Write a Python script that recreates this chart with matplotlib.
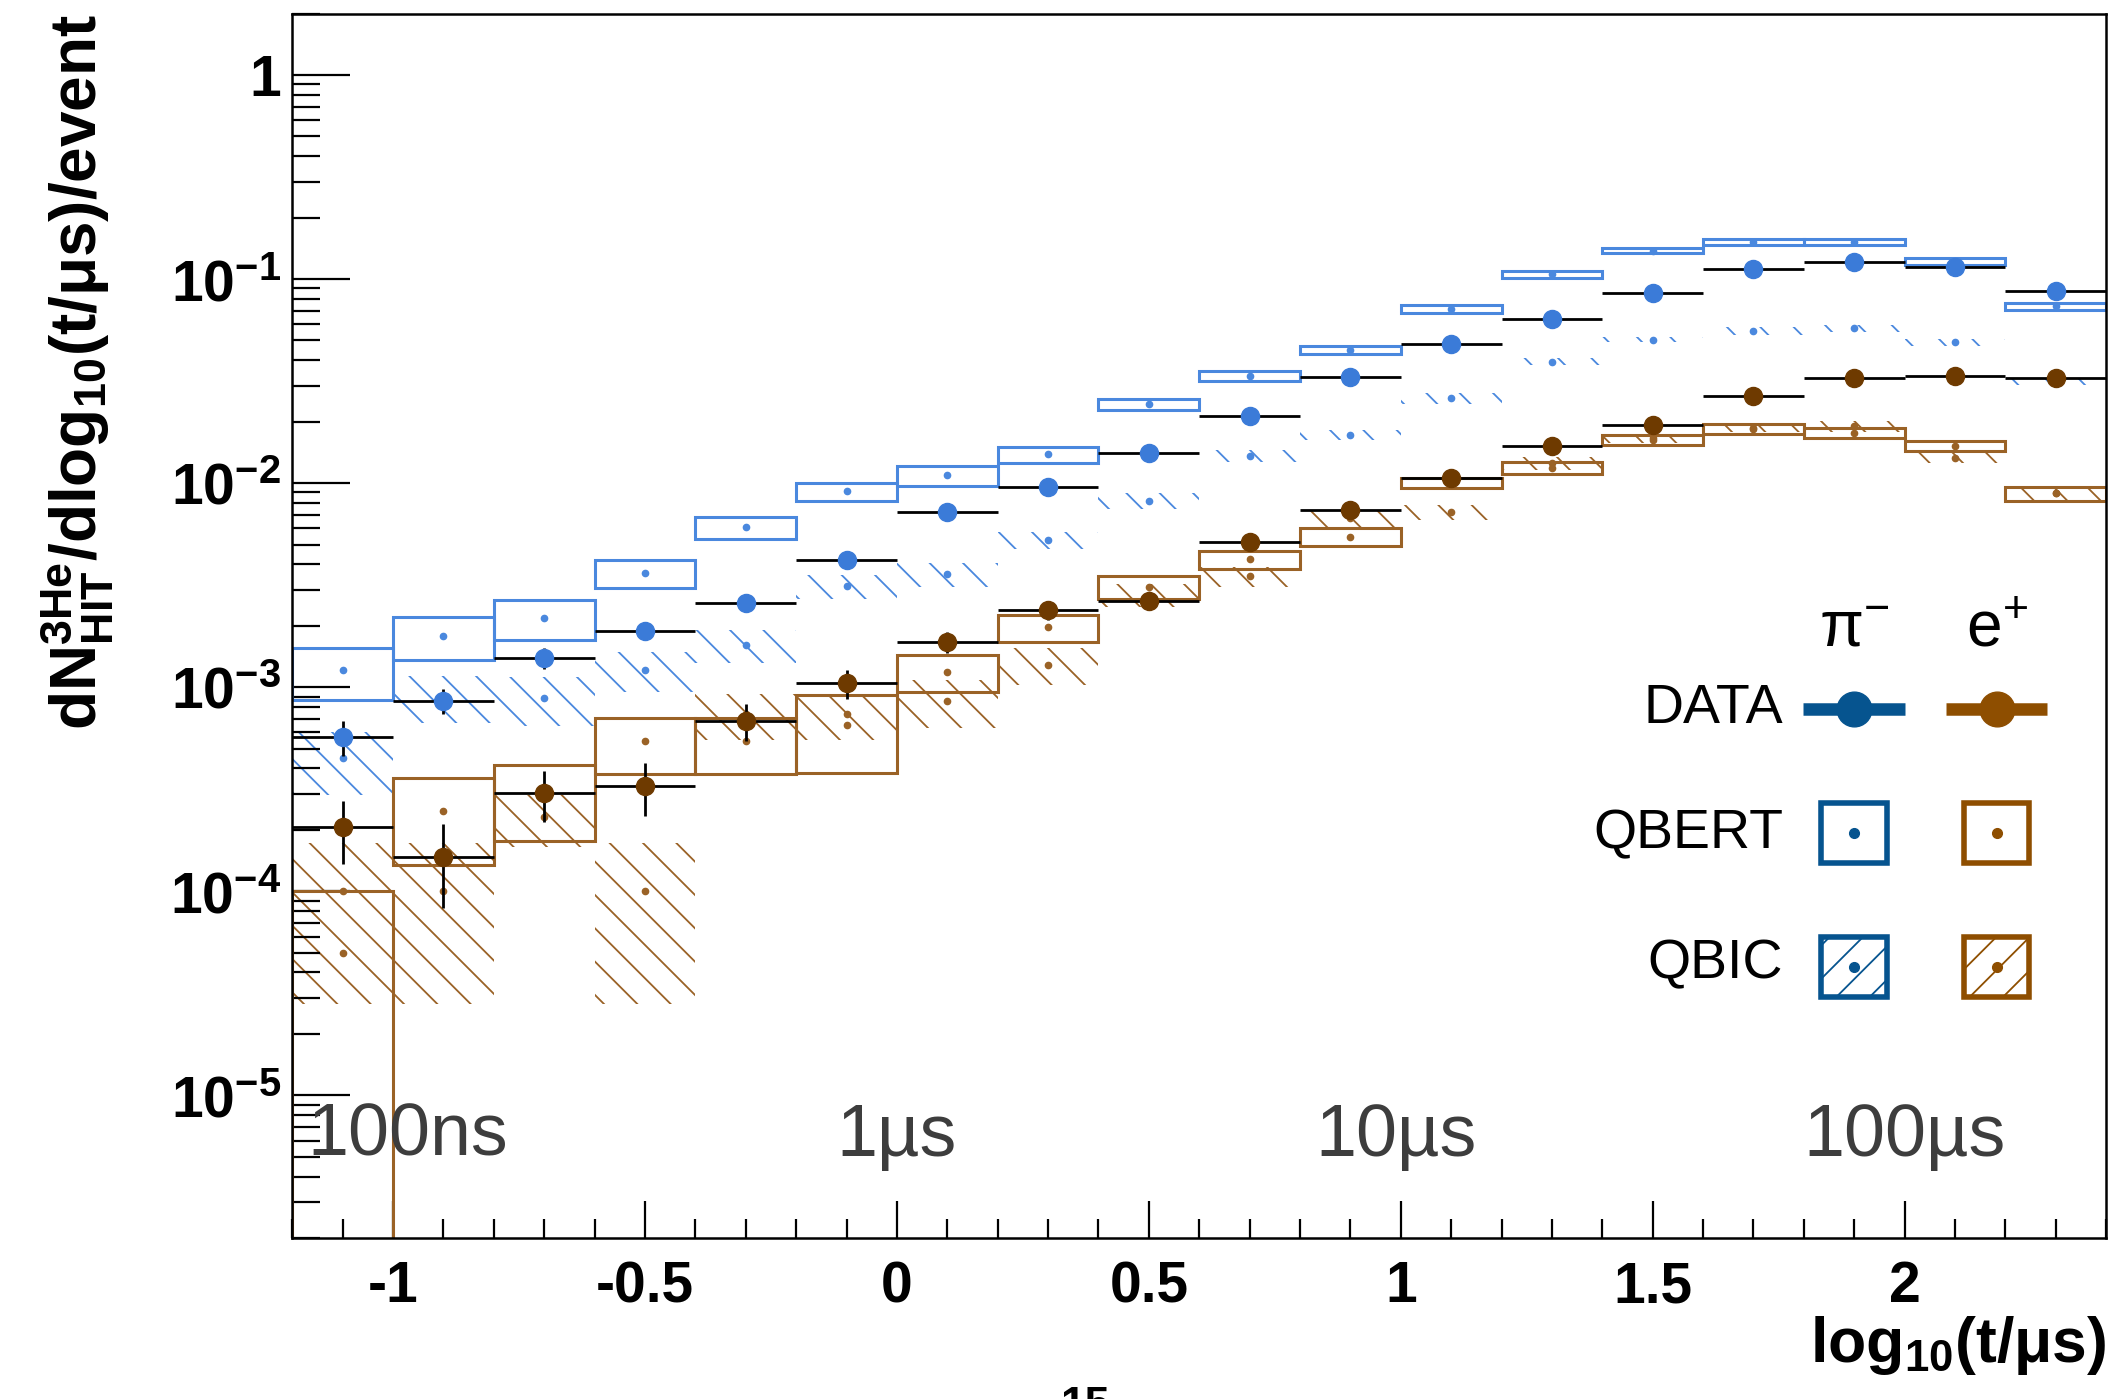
import numpy as np
import matplotlib
matplotlib.use('Agg')
import matplotlib.pyplot as plt
from matplotlib.patches import Rectangle
from matplotlib.lines import Line2D
from matplotlib.ticker import FixedLocator, FixedFormatter, LogLocator, NullFormatter, MultipleLocator

plt.rcParams['font.family'] = ['Liberation Sans', 'DejaVu Sans']
plt.rcParams['mathtext.fontset'] = 'custom'
plt.rcParams['mathtext.rm'] = 'Liberation Sans'
plt.rcParams['mathtext.bf'] = 'Liberation Sans:bold'
plt.rcParams['mathtext.it'] = 'Liberation Sans:italic'
plt.rcParams['mathtext.sf'] = 'Liberation Sans'
plt.rcParams['hatch.linewidth'] = 1.3

# bins in log10(t/us), width 0.2
bin_centers = [-1.1, -0.9, -0.7, -0.5, -0.3, -0.1, 0.1, 0.3, 0.5,
               0.7, 0.9, 1.1, 1.3, 1.5, 1.7, 1.9, 2.1, 2.3]

# pi- data
pi_data = [5.7e-4, 8.6e-4, 1.39e-3, 1.89e-3, 2.6e-3, 4.2e-3, 7.2e-3, 9.6e-3, 1.4e-2,
           2.14e-2, 3.3e-2, 4.8e-2, 6.4e-2, 8.5e-2, 0.112, 0.121, 0.115, 0.087]
pi_data_err = [1.1e-4, 1.2e-4, 1.6e-4, 1.7e-4, 2.0e-4, 2.5e-4, 3.0e-4, 3.5e-4, 4e-4,
               5e-4, 6e-4, 7e-4, 8e-4, 9e-4, 1.0e-3, 1.1e-3, 1.0e-3, 9e-4]
# e+ data
e_data = [2.06e-4, 1.48e-4, 3.03e-4, 3.29e-4, 6.83e-4, 1.05e-3, 1.67e-3, 2.39e-3, 2.65e-3,
          5.16e-3, 7.4e-3, 1.06e-2, 1.52e-2, 1.92e-2, 2.67e-2, 3.29e-2, 3.36e-2, 3.29e-2]
e_data_err = [7.0e-5, 6.5e-5, 8.5e-5, 9.5e-5, 1.4e-4, 1.7e-4, 2.0e-4, 2.5e-4, 2.5e-4,
              3.5e-4, 4e-4, 4.5e-4, 5.5e-4, 6e-4, 7e-4, 7.5e-4, 7.5e-4, 7.5e-4]

# QBERT simulation
pi_qbert = [1.21e-3, 1.78e-3, 2.18e-3, 3.63e-3, 6.07e-3, 9.1e-3, 1.09e-2, 1.385e-2, 2.43e-2,
            3.35e-2, 4.5e-2, 7.17e-2, 0.1055, 0.138, 0.152, 0.152, 0.122, 7.37e-2]
pi_qbert_err = [3.4e-4, 4.2e-4, 4.8e-4, 5.8e-4, 7.7e-4, 9.2e-4, 1.2e-3, 1.25e-3, 1.6e-3,
                1.8e-3, 2e-3, 3.2e-3, 4.5e-3, 4e-3, 4.5e-3, 4.5e-3, 4.3e-3, 2.9e-3]
e_qbert = [5e-5, 2.47e-4, 2.96e-4, 5.43e-4, 5.43e-4, 6.5e-4, 1.19e-3, 1.97e-3, 3.1e-3,
           4.23e-3, 5.45e-3, 1.0e-2, 1.19e-2, 1.63e-2, 1.85e-2, 1.76e-2, 1.52e-2, 8.9e-3]
e_qbert_err = [5e-5, 1.12e-4, 1.2e-4, 1.67e-4, 1.67e-4, 2.7e-4, 2.45e-4, 3e-4, 3.9e-4,
               4.4e-4, 5.5e-4, 5.5e-4, 8.5e-4, 9e-4, 1e-3, 1e-3, 8e-4, 7e-4]

# QBIC simulation
pi_qbic = [4.5e-4, 9.0e-4, 8.86e-4, 1.22e-3, 1.61e-3, 3.13e-3, 3.57e-3, 5.28e-3, 8.2e-3,
           1.36e-2, 1.72e-2, 2.6e-2, 3.94e-2, 5.05e-2, 5.55e-2, 5.74e-2, 4.9e-2, 3.14e-2]
pi_qbic_err = [1.55e-4, 2.3e-4, 2.4e-4, 2.7e-4, 3e-4, 4.1e-4, 4.7e-4, 5e-4, 7e-4,
               9e-4, 1e-3, 1.5e-3, 1.6e-3, 1.5e-3, 2.5e-3, 2.2e-3, 2e-3, 1e-3]
e_qbic = [1.0e-4, 1.0e-4, 2.3e-4, 1.0e-4, 7.4e-4, 7.35e-4, 8.55e-4, 1.29e-3, 2.84e-3,
          3.5e-3, 6.75e-3, 7.2e-3, 1.25e-2, 1.66e-2, 1.86e-2, 1.9e-2, 1.33e-2, 8.9e-3]
e_qbic_err = [7.2e-5, 7.2e-5, 6.5e-5, 7.2e-5, 1.9e-4, 1.85e-4, 2.25e-4, 2.65e-4, 3.6e-4,
              4e-4, 6.5e-4, 6e-4, 9e-4, 9e-4, 8e-4, 1.2e-3, 7.5e-4, 7e-4]

time_labels = ['100ns', '1\u00b5s', '10\u00b5s', '100\u00b5s']
time_pos = [-0.97, 0.0, 0.99, 2.0]

blue_mark = '#3b7bd8'
blue_box = '#4a88de'
brown_mark = '#6e3a00'
brown_box = '#9a6226'
leg_blue = '#06548f'
leg_brown = '#8e4e00'

fig = plt.figure(figsize=(21.21, 13.99), dpi=100)
ax = fig.add_axes([0.1378, 0.1151, 0.8552, 0.8752])
ax.set_yscale('log')

x = np.array(bin_centers)


def draw_qbic(vals, errs, color):
    v = np.array(vals)
    e = np.array(errs)
    ax.bar(x, 2 * e, bottom=v - e, width=0.2, facecolor='none', edgecolor=color,
           linewidth=0, hatch='\\', zorder=1)
    ax.plot(x, v, 'o', ms=4.5, color=color, zorder=3)


def draw_qbert(vals, errs, color):
    v = np.array(vals)
    e = np.array(errs)
    ax.bar(x, 2 * e, bottom=v - e, width=0.2, fill=False, edgecolor=color,
           linewidth=2.2, zorder=2)
    ax.plot(x, v, 'o', ms=4.5, color=color, zorder=3)


draw_qbic(pi_qbic, pi_qbic_err, blue_box)
draw_qbic(e_qbic, e_qbic_err, brown_box)
draw_qbert(pi_qbert, pi_qbert_err, blue_box)
draw_qbert(e_qbert, e_qbert_err, brown_box)

ax.errorbar(x, pi_data, xerr=0.1, yerr=pi_data_err, fmt='o', color=blue_mark,
            ecolor='black', elinewidth=2, capsize=0, ms=13, zorder=5)
ax.errorbar(x, e_data, xerr=0.1, yerr=e_data_err, fmt='o', color=brown_mark,
            ecolor='black', elinewidth=2, capsize=0, ms=13, zorder=5)

for lab, px in zip(time_labels, time_pos):
    ax.text(px, 0.083, lab, transform=ax.get_xaxis_transform(), ha='center', va='center',
            fontsize=53, color='#3d3d3d')

ax.set_xlim(-1.2, 2.4)
ax.set_ylim(2e-6, 2)

xt = [-1, -0.5, 0, 0.5, 1, 1.5, 2]
ax.xaxis.set_major_locator(FixedLocator(xt))
ax.xaxis.set_major_formatter(FixedFormatter(['-1', '-0.5', '0', '0.5', '1', '1.5', '2']))
ax.xaxis.set_minor_locator(MultipleLocator(0.1))
yt = [1e-5, 1e-4, 1e-3, 1e-2, 1e-1, 1]
ax.yaxis.set_major_locator(FixedLocator(yt))
ax.yaxis.set_major_formatter(FixedFormatter([r'$\mathbf{10^{-5}}$', r'$\mathbf{10^{-4}}$',
                                             r'$\mathbf{10^{-3}}$', r'$\mathbf{10^{-2}}$',
                                             r'$\mathbf{10^{-1}}$', r'$\mathbf{1}$']))
ax.yaxis.set_minor_locator(LogLocator(base=10, subs=np.arange(2, 10), numticks=20))
ax.yaxis.set_minor_formatter(NullFormatter())

ax.tick_params(axis='y', which='major', direction='in', length=42, width=1.6, pad=8, labelsize=41)
ax.tick_params(axis='y', which='minor', direction='in', length=20, width=1.6)
ax.tick_params(axis='x', which='major', direction='in', length=27, width=1.6, pad=16, labelsize=41)
ax.tick_params(axis='x', which='minor', direction='in', length=14, width=1.6)
for lab in ax.get_xticklabels():
    lab.set_fontweight('bold')
for s in ax.spines.values():
    s.set_linewidth(1.8)

ax.set_ylabel(r'$\mathbf{dN^{3He}_{HIT}/dlog_{10}(t/\mu s)/event}$', fontsize=46, loc='top')
ax.yaxis.set_label_coords(-0.098, 1.0)
ax.set_xlabel(r'$\mathbf{log_{10}(t/\mu s)}$', fontsize=45, loc='right')
ax.xaxis.set_label_coords(1.0, -0.062)

# legend drawn by hand, ROOT style
T = ax.transAxes
ax.text(0.861, 0.497, r'$\mathrm{\pi^{-}}$', transform=T, fontsize=46, ha='center', va='center')
ax.text(0.9396, 0.497, r'$\mathrm{e^{+}}$', transform=T, fontsize=46, ha='center', va='center')
ax.text(0.8218, 0.432, 'DATA', transform=T, fontsize=40, ha='right', va='center')
ax.text(0.8218, 0.330, 'QBERT', transform=T, fontsize=40, ha='right', va='center')
ax.text(0.8218, 0.2232, 'QBIC', transform=T, fontsize=40, ha='right', va='center')
for cx, col in [(0.861, leg_blue), (0.9396, leg_brown)]:
    ax.add_line(Line2D([cx - 0.028, cx + 0.028], [0.432, 0.432], transform=T, color=col,
                       lw=9, solid_capstyle='butt', zorder=6))
    ax.add_line(Line2D([cx], [0.432], transform=T, marker='o', ms=25, color=col, zorder=7))
    for yb, hatch in [(0.306, None), (0.1967, '/')]:
        ax.add_patch(Rectangle((cx - 0.018, yb), 0.036, 0.049, transform=T, facecolor='white',
                               edgecolor=col, linewidth=4, hatch=hatch, zorder=6))
        ax.add_line(Line2D([cx], [yb + 0.0245], transform=T, marker='o', ms=7, color=col, zorder=7))

fig.text(1085 / 2121, 1 - 1386 / 1399, '15', fontsize=32, fontweight='bold', ha='center', va='top')

fig.savefig('out.png', dpi=100)
